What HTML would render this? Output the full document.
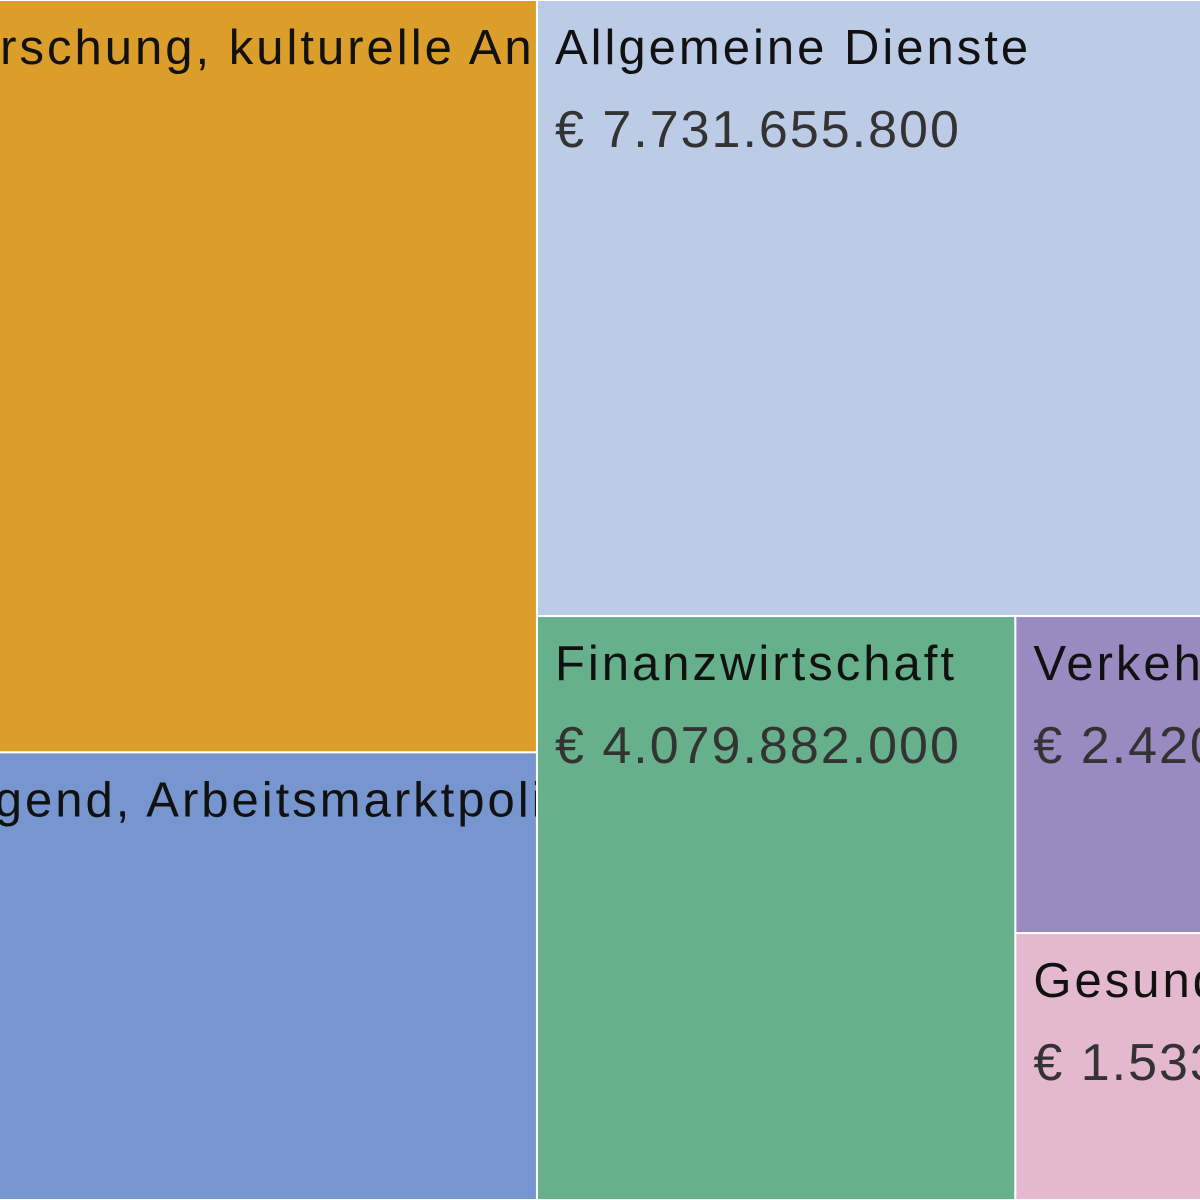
<!DOCTYPE html>
<html><head><meta charset="utf-8"><style>
html,body{margin:0;padding:0;background:#fff;overflow:hidden}
svg{display:block}
text{font-family:"Liberation Sans",sans-serif}
</style></head><body>
<svg id="chart" width="1200" height="1200" viewBox="0 0 1200 1200" xmlns="http://www.w3.org/2000/svg"></svg>
<script>
const names = ["Forschung, kulturelle Angelegenheiten","Jugend, Arbeitsmarktpolitik","Allgemeine Dienste","Sonstiges","Finanzwirtschaft","Verkehr","Gesundheit","Umwelt"];
const values = [6.79, 4.04, 7.7316558, 1.275, 4.079882, 2.42, 1.533, 0.504];
const valueLabels = ["€ 6.790.000.000","€ 4.040.000.000","€ 7.731.655.800","€ 1.275.000.000","€ 4.079.882.000","€ 2.420.000.000","€ 1.533.000.000","€ 504.000.000"];
const colors = ["#DB9E2A","#7795CE","#BCCCE6","#D9D9D9","#67B08C","#9A8AC2","#E4B8CE","#C9C9A0"];

const tree = ['h', [
  ['v', [0, 1]],
  ['v', [
    ['h', [2, 3]],
    ['h', [4, ['v', [5, ['h', [6, 7]]]]]]
  ]]
]];
const root = {x: -81, y: 0, w: 1619, h: 1200};

function sum(node){ return typeof node === 'number' ? values[node] : node[1].reduce((a,c)=>a+sum(c),0); }
const rects = [];
function layout(node, r){
  if (typeof node === 'number'){ rects.push({i: node, r}); return; }
  const total = sum(node); let off = 0;
  node[1].forEach(c => {
    const f = sum(c) / total;
    if (node[0] === 'h'){ layout(c, {x: r.x + off, y: r.y, w: r.w * f, h: r.h}); off += r.w * f; }
    else { layout(c, {x: r.x, y: r.y + off, w: r.w, h: r.h * f}); off += r.h * f; }
  });
}
layout(tree, root);

const NS = "http://www.w3.org/2000/svg";
const svg = document.getElementById('chart');
const defs = document.createElementNS(NS, 'defs');
svg.appendChild(defs);
rects.forEach(({i, r}) => {
  const cp = document.createElementNS(NS, 'clipPath');
  cp.setAttribute('id', 'clip' + i);
  const cr = document.createElementNS(NS, 'rect');
  cr.setAttribute('x', r.x); cr.setAttribute('y', r.y); cr.setAttribute('width', r.w); cr.setAttribute('height', r.h);
  cp.appendChild(cr); defs.appendChild(cp);

  const g = document.createElementNS(NS, 'g');
  
  
  const rect = document.createElementNS(NS, 'rect');
  
  
  rect.setAttribute('x', r.x); rect.setAttribute('y', r.y);
  rect.setAttribute('width', r.w); rect.setAttribute('height', r.h);
  rect.setAttribute('fill', colors[i]); rect.setAttribute('stroke', '#fff'); rect.setAttribute('stroke-width', 2);
  g.appendChild(rect);

  const tg = document.createElementNS(NS, 'g');
  tg.setAttribute('clip-path', 'url(#clip' + i + ')');
  const t = document.createElementNS(NS, 'text');
  
  
  t.setAttribute('x', r.x + 18); t.setAttribute('y', r.y + 64);
  t.setAttribute('font-size', 49); t.setAttribute('letter-spacing', 3); t.setAttribute('fill', '#111');
  t.textContent = names[i];
  tg.appendChild(t);
  g.appendChild(tg);
  svg.appendChild(g);
  if (r.x >= 0){
    const v = document.createElementNS(NS, 'text');
    
    
    v.setAttribute('x', r.x + 18); v.setAttribute('y', r.y + 147);
    v.setAttribute('font-size', 52); v.setAttribute('letter-spacing', 2); v.setAttribute('fill', '#333');
    v.textContent = valueLabels[i];
    tg.appendChild(v);
  }
});
</script>
</body></html>
